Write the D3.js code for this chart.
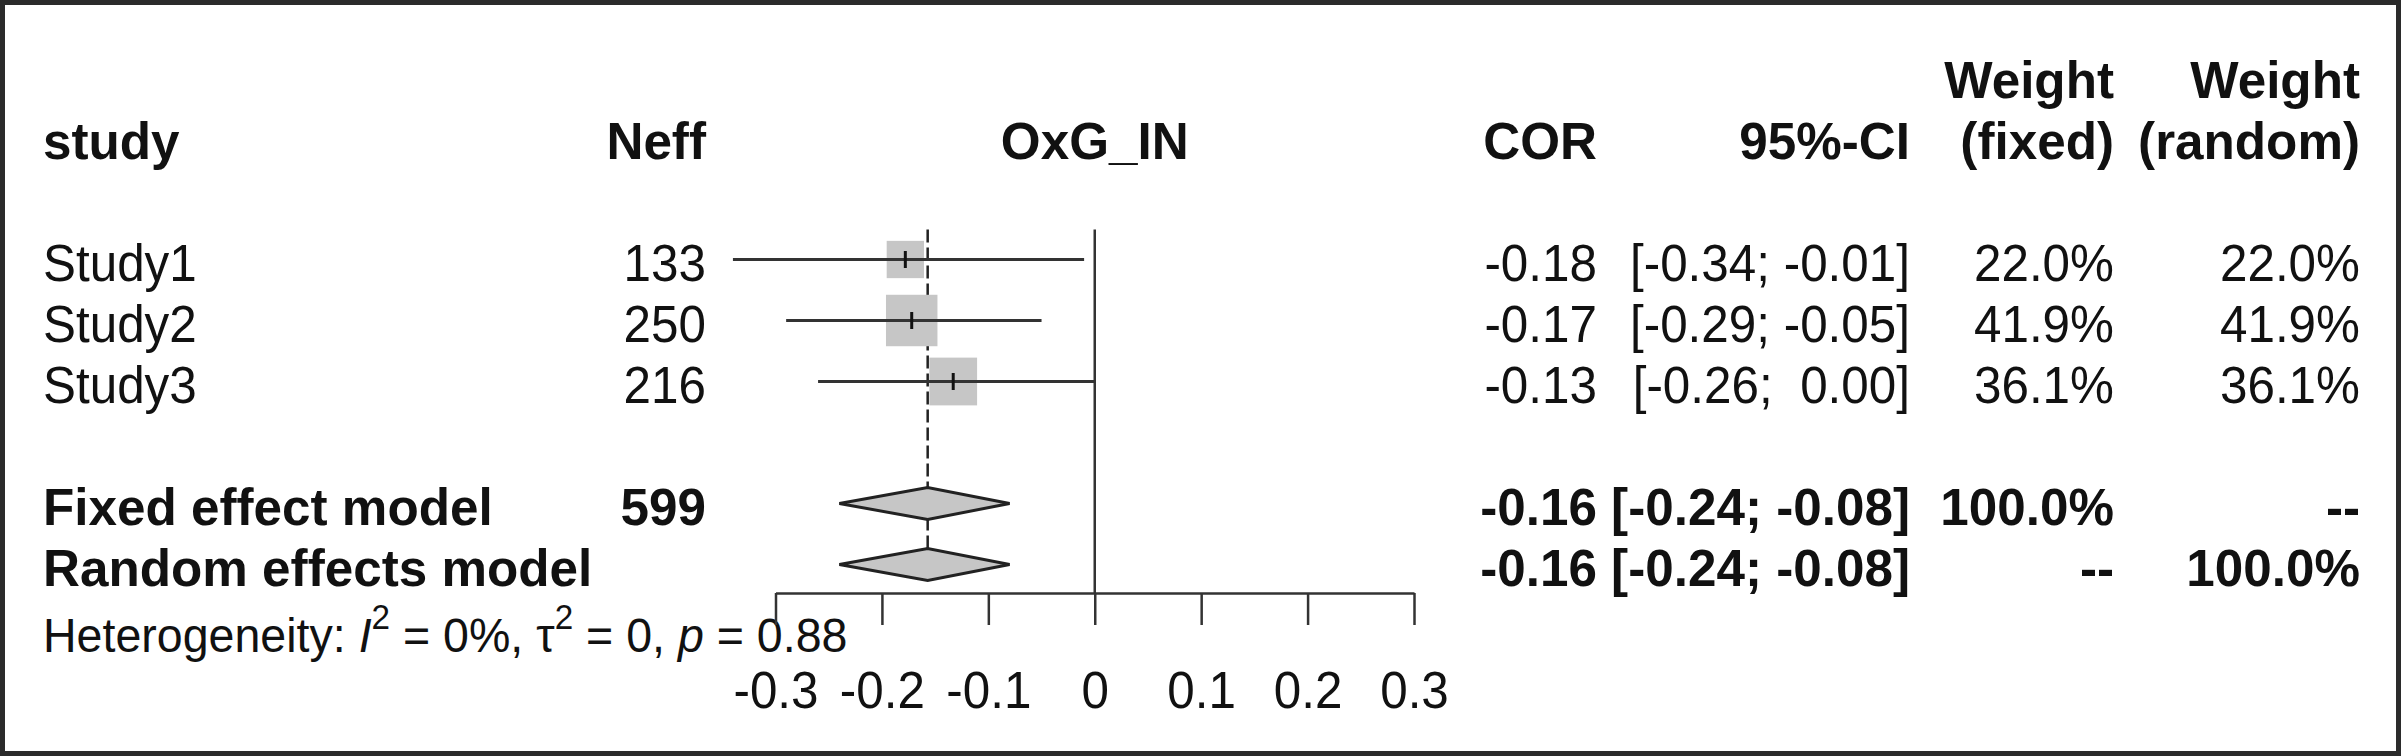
<!DOCTYPE html>
<html>
<head>
<meta charset="utf-8">
<script src="https://cdn.jsdelivr.net/npm/d3@7"></script>
<style>
  html, body { margin: 0; padding: 0; background: #fff; }
  svg text { font-family: "Liberation Sans", Arial, sans-serif; fill: #111; white-space: pre; }
</style>
</head>
<body>
<div id="maViz"></div>
<script>
// ---- donnees ----
const studies = ["Study1", "Study2", "Study3"];
const neff = [133, 250, 216];
const cor = [-0.178, -0.172, -0.133];      // estimations (affichees a 2 decimales)
const ciLow = [-0.34, -0.29, -0.26];
const ciHigh = [-0.01, -0.05, 0.00];
const wFixed = [22.0, 41.9, 36.1];
const wRandom = [22.0, 41.9, 36.1];

const models = ["Fixed effect model", "Random effects model"];
const modelNeff = ["599", ""];
const modelCor = [-0.157, -0.157];
const modelLow = [-0.24, -0.24];
const modelHigh = [-0.08, -0.08];
const modelWFixed = ["100.0%", "--"];
const modelWRandom = ["--", "100.0%"];

const axisTicks = [-0.3, -0.2, -0.1, 0, 0.1, 0.2, 0.3];
const hetLabels = ["0%", "0", "0.88"];   // I2, tau2, p

// ---- mise en page ----
const W = 2401, H = 756;
const FS = 52;          // taille texte
const SX = 0.95;        // texte normal un peu tasse horizontalement
const SXB = 0.985;      // texte gras
const dark = "#333";

const col = { study: 43, neff: 706, cor: 1597, ci: 1910, wf: 2114, wr: 2360 };

const x = d3.scaleLinear().domain([-0.3, 0.3]).range([775.5, 1414]);
const rowY = d3.scaleLinear().domain([0, 1]).range([79, 140]);   // 61 px par ligne
const sq = d3.scaleSqrt().domain([0, 100]).range([0, 79.5]);

const fmt = v => v.toFixed(2);
const fmtCI = (lo, hi) => "[" + fmt(lo) + "; " + (hi >= 0 ? " " : "") + fmt(hi) + "]";

const svg = d3.select("#maViz")
  .append("svg")
  .attr("width", W)
  .attr("height", H);

svg.append("rect")
  .attr("x", 2.5).attr("y", 2.5)
  .attr("width", W - 5).attr("height", H - 5)
  .attr("fill", "#fff")
  .attr("stroke", "#2b2b2b")
  .attr("stroke-width", 5);

function txt(xp, yp, s, anchor = "start", weight = "normal", size = FS) {
  const k = weight === "bold" ? SXB : SX;
  return svg.append("text")
    .attr("transform", `translate(${xp},${yp}) scale(${k},1)`)
    .attr("text-anchor", anchor)
    .attr("font-weight", weight)
    .attr("font-size", size)
    .text(s);
}

const base = i => rowY(i) + 19;   // ligne de base du texte
const mid = i => rowY(i) - 2.5;   // centre des marques

// ---- entetes ----
txt(col.wf, base(0), "Weight", "end", "bold");
txt(col.wr, base(0), "Weight", "end", "bold");
txt(col.study, base(1), "study", "start", "bold");
txt(col.neff, base(1), "Neff", "end", "bold");
txt(x(0), base(1), "OxG_IN", "middle", "bold");
txt(col.cor, base(1), "COR", "end", "bold");
txt(col.ci, base(1), "95%-CI", "end", "bold");
txt(col.wf, base(1), "(fixed)", "end", "bold");
txt(col.wr, base(1), "(random)", "end", "bold");

// ---- lignes verticales ----
const topY = rowY(2.5) - 2;
const axisY = rowY(8) + 26;

svg.append("line")
  .attr("x1", x(0)).attr("x2", x(0))
  .attr("y1", topY).attr("y2", axisY)
  .attr("stroke", dark).attr("stroke-width", 2.5);

svg.append("line")
  .attr("x1", x(modelCor[0])).attr("x2", x(modelCor[0]))
  .attr("y1", topY).attr("y2", mid(8))
  .attr("stroke", "#222").attr("stroke-width", 2.5)
  .attr("stroke-dasharray", "13,5");

// ---- etudes ----
studies.forEach((s, i) => {
  const r = i + 3;
  const side = sq(wFixed[i]);
  svg.append("rect")
    .attr("x", x(cor[i]) - side / 2)
    .attr("y", mid(r) - side / 2)
    .attr("width", side).attr("height", side)
    .attr("fill", "#c6c6c6");
  svg.append("line")
    .attr("x1", x(ciLow[i])).attr("x2", x(ciHigh[i]))
    .attr("y1", mid(r)).attr("y2", mid(r))
    .attr("stroke", dark).attr("stroke-width", 3.2);
  svg.append("line")
    .attr("x1", x(cor[i])).attr("x2", x(cor[i]))
    .attr("y1", mid(r) - 8.5).attr("y2", mid(r) + 8.5)
    .attr("stroke", "#111").attr("stroke-width", 3);

  txt(col.study, base(r), s);
  txt(col.neff, base(r), String(neff[i]), "end");
  txt(col.cor, base(r), fmt(cor[i]), "end");
  txt(col.ci, base(r), fmtCI(ciLow[i], ciHigh[i]), "end");
  txt(col.wf, base(r), wFixed[i].toFixed(1) + "%", "end");
  txt(col.wr, base(r), wRandom[i].toFixed(1) + "%", "end");
});

// ---- modeles (losanges) ----
models.forEach((m, j) => {
  const r = j + 7;
  const yc = mid(r);
  const pts = [[x(modelLow[j]), yc], [x(modelCor[j]), yc - 16], [x(modelHigh[j]), yc], [x(modelCor[j]), yc + 16]];
  svg.append("path")
    .attr("d", d3.line()(pts) + "Z")
    .attr("fill", "#c6c6c6")
    .attr("stroke", "#222")
    .attr("stroke-width", 3);

  txt(col.study, base(r), m, "start", "bold");
  if (modelNeff[j]) txt(col.neff, base(r), modelNeff[j], "end", "bold");
  txt(col.cor, base(r), fmt(modelCor[j]), "end", "bold");
  txt(col.ci, base(r), fmtCI(modelLow[j], modelHigh[j]), "end", "bold");
  txt(col.wf, base(r), modelWFixed[j], "end", "bold");
  txt(col.wr, base(r), modelWRandom[j], "end", "bold");
});

// ---- heterogeneite ----
const HF = 49;
const het = svg.append("text")
  .attr("transform", `translate(${col.study},${base(9) + 5}) scale(${SX},1)`)
  .attr("font-size", HF);
het.append("tspan").text("Heterogeneity: ");
het.append("tspan").attr("font-style", "italic").text("I");
het.append("tspan").attr("font-size", 35).attr("dy", -23).text("2");
het.append("tspan").attr("dy", 23).text(" = " + hetLabels[0] + ", \u03c4");
het.append("tspan").attr("font-size", 35).attr("dy", -23).text("2");
het.append("tspan").attr("dy", 23).text(" = " + hetLabels[1] + ", ");
het.append("tspan").attr("font-style", "italic").text("p");
het.append("tspan").text(" = " + hetLabels[2]);

// ---- axe ----
const gx = svg.append("g")
  .attr("transform", `translate(0,${axisY})`)
  .call(d3.axisBottom(x)
    .tickValues(axisTicks)
    .tickFormat(d => String(d))
    .tickSize(32)
    .tickSizeOuter(0)
    .tickPadding(46));

gx.select(".domain").attr("stroke", dark).attr("stroke-width", 2.5);
gx.selectAll(".tick line").attr("stroke", dark).attr("stroke-width", 2.5);
gx.selectAll(".tick text")
  .attr("font-size", FS)
  .attr("font-family", "Liberation Sans, Arial, sans-serif")
  .attr("fill", "#111")
  .attr("transform", `scale(${SX},1)`);
</script>
</body>
</html>
